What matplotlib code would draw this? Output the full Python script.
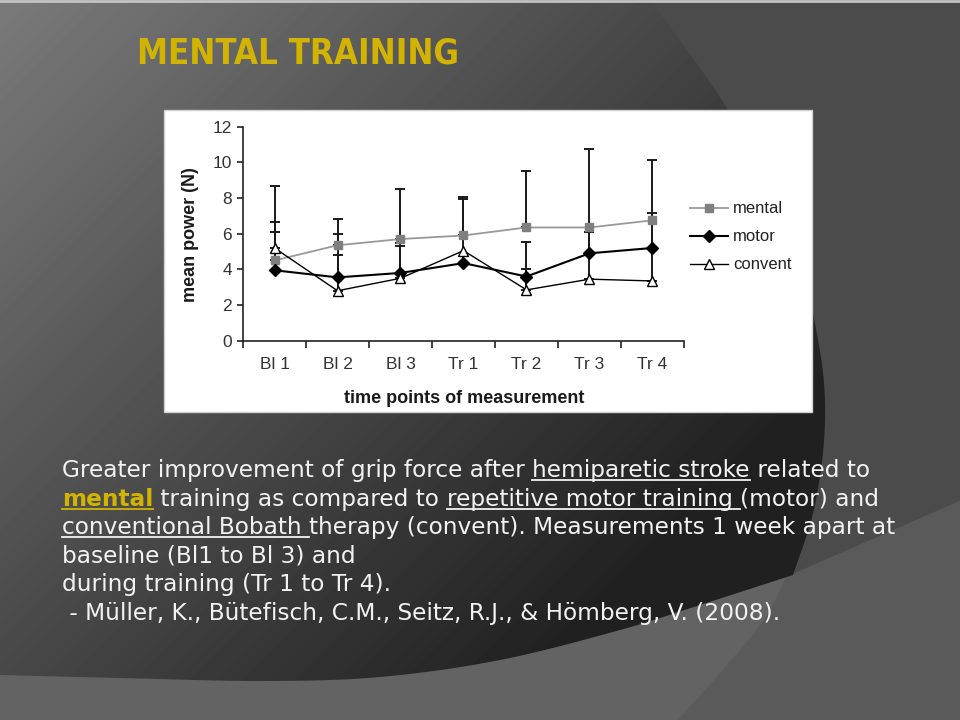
import numpy as np
import matplotlib
matplotlib.use("Agg")
import matplotlib.pyplot as plt
from matplotlib import font_manager
from matplotlib.font_manager import FontProperties
from matplotlib.patches import Polygon, Rectangle

# chart data
categories = ["Bl 1", "Bl 2", "Bl 3", "Tr 1", "Tr 2", "Tr 3", "Tr 4"]
mental = [4.5, 5.35, 5.7, 5.9, 6.35, 6.35, 6.75]
motor = [3.95, 3.55, 3.8, 4.35, 3.6, 4.9, 5.2]
convent = [5.2, 2.8, 3.5, 5.05, 2.85, 3.45, 3.35]
mental_top = [6.1, 6.85, 8.5, 8.05, 9.5, np.nan, np.nan]
motor_top = [6.65, 4.8, 5.5, 7.95, 4.0, 10.75, 10.15]
convent_top = [8.7, 6.0, 5.3, np.nan, 5.55, 6.1, 7.15]
y_ticks = [0, 2, 4, 6, 8, 10, 12]

TITLE = "MENTAL TRAINING"
GOLD = "#d2b300"
TEXT = "#f2f2f2"
BODY_FONT = ["DejaVu Sans"]

# (text, style): n = normal, u = underlined, g = gold bold underlined
BODY_LINES = [
    [("Greater improvement of grip force after ", "n"), ("hemiparetic stroke", "u"), (" related to", "n")],
    [("mental", "g"), (" training as compared to ", "n"), ("repetitive motor training ", "u"), ("(motor) and", "n")],
    [("conventional Bobath ", "u"), ("therapy (convent). Measurements 1 week apart at", "n")],
    [("baseline (Bl1 to Bl 3) and", "n")],
    [("during training (Tr 1 to Tr 4).", "n")],
    [(" - Müller, K., Bütefisch, C.M., Seitz, R.J., & Hömberg, V. (2008).", "n")],
]


def smooth(points, n=24):
    pts = np.array(points, float)
    ext = np.vstack([pts[0], pts, pts[-1]])
    out = []
    for i in range(1, len(ext) - 2):
        p0, p1, p2, p3 = ext[i - 1], ext[i], ext[i + 1], ext[i + 2]
        for t in np.linspace(0, 1, n, endpoint=False):
            out.append(0.5 * (2 * p1 + (-p0 + p2) * t + (2 * p0 - 5 * p1 + 4 * p2 - p3) * t ** 2
                              + (-p0 + 3 * p1 - 3 * p2 + p3) * t ** 3))
    out.append(pts[-1])
    return out


def title_font():
    # a narrow bold face looks closest to the slide title; fall back to DejaVu bold
    for f in font_manager.fontManager.ttflist:
        name = f.fname.lower()
        if ("narrow" in name or "condensed" in name) and "bold" in name and "oblique" not in name and "italic" not in name:
            return FontProperties(fname=f.fname)
    return FontProperties(family="DejaVu Sans", weight="bold")


fig = plt.figure(figsize=(9.6, 7.2), dpi=100)
bg = fig.add_axes([0, 0, 1, 1])
bg.set_xlim(0, 960)
bg.set_ylim(720, 0)
bg.axis("off")

# slide background
bg.add_patch(Rectangle((0, 0), 960, 720, color="#5a5a5a", zorder=0))
bg.add_patch(Polygon([(640, 0), (960, 0), (960, 500), (793, 573), (700, 600)], color="#4b4b4b", zorder=0))
light_edge = smooth([(785, 578), (763, 620), (720, 672), (677, 720)])
bg.add_patch(Polygon([(0, 600), (790, 560)] + light_edge + [(0, 720)], color="#636363", zorder=0))

right_arc = smooth([(650, 0), (728, 110), (790, 230), (818, 340), (825, 420), (815, 505), (793, 575)])
bottom_arc = smooth([(793, 575), (700, 605), (620, 630), (500, 660), (380, 677), (263, 681), (120, 678), (0, 675)])
dark = Polygon(right_arc + bottom_arc[1:] + [(0, 0)], closed=True, facecolor="none", edgecolor="none")
bg.add_patch(dark)
gx, gy = np.meshgrid(np.arange(960), np.arange(720))
shade = np.clip(0.478 - 0.00029 * (gx + gy), 0.13, 1)
img = bg.imshow(shade, cmap="gray", vmin=0, vmax=1, extent=(0, 960, 720, 0), zorder=0.5, aspect="auto")
img.set_clip_path(dark)
bg.plot([0, 960], [1, 1], color="#c4c4c4", lw=2, zorder=1)

# title
tprop = title_font()
tprop.set_size(30)
title = bg.text(137, 63, TITLE, color=GOLD, fontproperties=tprop, va="baseline", ha="left")

# chart card
bg.add_patch(Rectangle((164, 110), 648, 302, facecolor="white", edgecolor="#d0d0d0", lw=1, zorder=1))

fig.canvas.draw()
renderer = fig.canvas.get_renderer()


def text_width(s, size, weight="normal"):
    a = bg.text(0, 0, "|" + s + "|", fontsize=size, fontweight=weight, family=BODY_FONT)
    b = bg.text(0, 0, "||", fontsize=size, fontweight=weight, family=BODY_FONT)
    w = a.get_window_extent(renderer).width - b.get_window_extent(renderer).width
    a.remove()
    b.remove()
    return w


tw = title.get_window_extent(renderer).width
title.set_fontsize(30 * 321 / tw)

line3 = "".join(s for s, _ in BODY_LINES[2])
body_size = 10 * 837 / text_width(line3, 10)

baseline = 477
for segments in BODY_LINES:
    x = 62
    for txt, style in segments:
        color = GOLD if style == "g" else TEXT
        weight = "bold" if style == "g" else "normal"
        bg.text(x, baseline, txt, fontsize=body_size, color=color, fontweight=weight,
                family=BODY_FONT, va="baseline", ha="left", zorder=3)
        w = text_width(txt, body_size, weight)
        if style in "ug":
            bg.plot([x, x + w], [baseline + 3, baseline + 3], color=color, lw=1.3, zorder=3)
        x += w
    baseline += 28.6

# the chart itself
ax = fig.add_axes([243 / 960, 1 - 340.7 / 720, 441 / 960, 214 / 720])
ax.set_facecolor("white")
xs = np.arange(len(categories))

for values, tops in [(mental, mental_top), (motor, motor_top), (convent, convent_top)]:
    v = np.array(values)
    t = np.array(tops)
    ok = ~np.isnan(t)
    ax.errorbar(xs[ok], v[ok], yerr=[np.zeros(ok.sum()), (t - v)[ok]], fmt="none",
                ecolor="#1a1a1a", elinewidth=1.4, capsize=3.5, capthick=1.4, zorder=2)

ax.plot(xs, mental, color="#999999", lw=1.3, marker="s", markersize=5.5,
        mfc="#7f7f7f", mec="#7f7f7f", label="mental", zorder=3)
ax.plot(xs, motor, color="black", lw=1.5, marker="D", markersize=6.5,
        mfc="black", mec="black", label="motor", zorder=4)
ax.plot(xs, convent, color="black", lw=1.0, marker="^", markersize=7,
        mfc="white", mec="black", mew=1.0, label="convent", zorder=5)

ax.set_xlim(-0.5, 6.5)
ax.set_ylim(0, 12)
ax.set_yticks(y_ticks)
ax.set_xticks(xs)
ax.set_xticklabels(categories)
ax.set_xticks(np.arange(-0.5, 7, 1), minor=True)
ax.tick_params(axis="x", which="major", length=0, pad=12, labelsize=12.5, labelcolor="#333333")
ax.tick_params(axis="x", which="minor", length=5, width=1.2, direction="out", color="#222222")
ax.tick_params(axis="y", length=4, width=1.2, direction="out", pad=4, labelsize=12.5,
               labelcolor="#333333", color="#222222")
for lab in ax.get_xticklabels() + ax.get_yticklabels():
    lab.set_family("Liberation Sans")
for side in ["top", "right"]:
    ax.spines[side].set_visible(False)
for side in ["left", "bottom"]:
    ax.spines[side].set_color("#222222")
    ax.spines[side].set_linewidth(1.2)

ax.set_ylabel("mean power (N)", fontsize=13, fontweight="bold", family="Liberation Sans",
              color="#1a1a1a", va="center")
ax.yaxis.set_label_coords(-0.12, 0.494)
ax.set_xlabel("time points of measurement", fontsize=13, fontweight="bold", family="Liberation Sans",
              color="#1a1a1a", va="center")
ax.xaxis.set_label_coords(0.501, -0.272)

leg = ax.legend(loc="center left", bbox_to_anchor=(690 / 960, 1 - 237 / 720), bbox_transform=fig.transFigure,
                frameon=False, borderpad=0, borderaxespad=0, handlelength=2.3, handletextpad=0.3,
                labelspacing=0.78, prop={"family": "Liberation Sans", "size": 12})
for txt in leg.get_texts():
    txt.set_color("#222222")

fig.savefig("out.png", dpi=100)
